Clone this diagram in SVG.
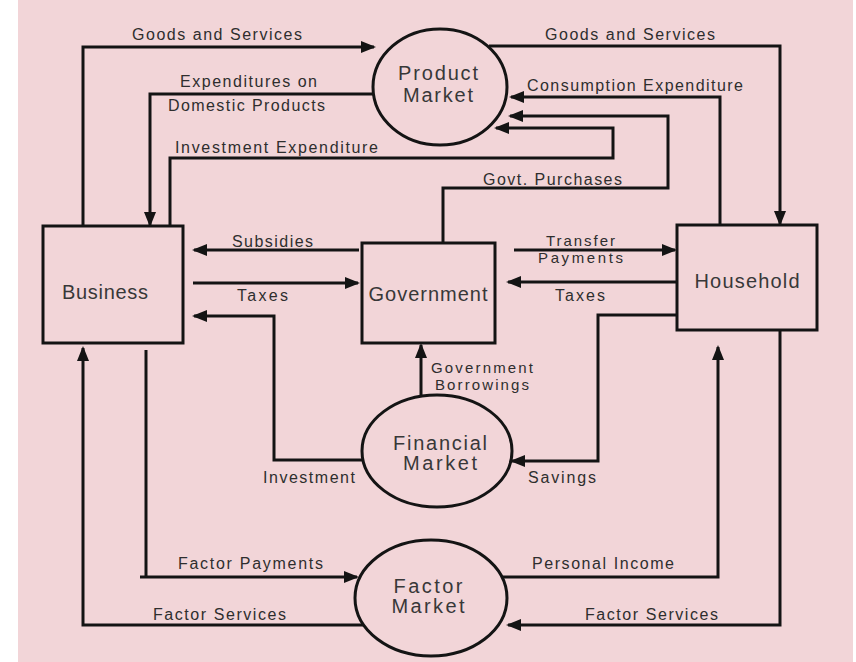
<svg xmlns="http://www.w3.org/2000/svg" width="856" height="662" viewBox="0 0 856 662">
<style>
.bg{fill:#f2d5d8}
.node{fill:none;stroke:#141414;stroke-width:3}
.ln{fill:none;stroke:#141414;stroke-width:3;marker-end:url(#ah)}
.pl{fill:none;stroke:#141414;stroke-width:3}
.lbl{font-family:"Liberation Sans",Arial,sans-serif;font-size:16px;fill:#2e2e2e}
.sm{font-size:15px}
.nl{font-family:"Liberation Sans",Arial,sans-serif;font-size:20px;fill:#383838;text-anchor:middle}
</style>
<defs>
<marker id="ah" markerWidth="15" markerHeight="12" refX="13" refY="6" orient="auto" markerUnits="userSpaceOnUse">
<path d="M0,0 L15,6 L0,12 Z" fill="#141414"/>
</marker>
</defs>
<rect x="0" y="0" width="856" height="662" fill="#ffffff"/>
<rect class="bg" x="18" y="0" width="835" height="662"/>

<g id="connectors">
<!-- Goods and Services left -->
<path class="ln" d="M83,226 V47 H374"/>
<!-- Expenditures on Domestic Products -->
<path class="ln" d="M374,94 H150 V225"/>
<!-- Investment Expenditure -->
<path class="ln" d="M170,226 V158 H613 V128 H496"/>
<!-- Goods and Services right -->
<path class="ln" d="M489,46 H780 V224"/>
<!-- Consumption Expenditure -->
<path class="ln" d="M720,225 V97 H511"/>
<!-- Govt. Purchases -->
<path class="ln" d="M443,243 V188 H668 V116 H510"/>
<!-- Subsidies -->
<path class="ln" d="M359,250 H194"/>
<!-- Taxes business -->
<path class="ln" d="M193,283 H358"/>
<!-- Investment -->
<path class="ln" d="M362,460 H274 V316 H194"/>
<!-- Government Borrowings -->
<path class="ln" d="M421,396 V345"/>
<!-- Transfer Payments -->
<path class="ln" d="M514,250 H675"/>
<!-- Taxes household -->
<path class="ln" d="M677,282 H508"/>
<!-- Savings -->
<path class="ln" d="M677,315 H598 V461 H512"/>
<!-- Personal Income -->
<path class="ln" d="M503,577 H718 V347"/>
<!-- Factor Services right -->
<path class="ln" d="M780,330 V625 H508"/>
<!-- Factor Payments -->
<path class="pl" d="M146,350 V577"/>
<path class="ln" d="M140,577 H357"/>
<!-- Factor Services left -->
<path class="ln" d="M363,625 H83 V348"/>
</g>

<g id="edge-labels">
<text class="lbl" x="132" y="40" textLength="170" lengthAdjust="spacing">Goods and Services</text>
<text class="lbl" x="180" y="87" textLength="137" lengthAdjust="spacing">Expenditures on</text>
<text class="lbl" x="168" y="111" textLength="157" lengthAdjust="spacing">Domestic Products</text>
<text class="lbl" x="175" y="153" textLength="203" lengthAdjust="spacing">Investment Expenditure</text>
<text class="lbl" x="545" y="40" textLength="170" lengthAdjust="spacing">Goods and Services</text>
<text class="lbl" x="527" y="91" textLength="216" lengthAdjust="spacing">Consumption Expenditure</text>
<text class="lbl" x="483" y="185" textLength="139" lengthAdjust="spacing">Govt. Purchases</text>
<text class="lbl" x="232" y="247" textLength="81" lengthAdjust="spacing">Subsidies</text>
<text class="lbl" x="237" y="301" textLength="51" lengthAdjust="spacing">Taxes</text>
<text class="lbl sm" x="546" y="246" textLength="69" lengthAdjust="spacing">Transfer</text>
<text class="lbl sm" x="538" y="263" textLength="85" lengthAdjust="spacing">Payments</text>
<text class="lbl" x="555" y="301" textLength="50" lengthAdjust="spacing">Taxes</text>
<text class="lbl sm" x="431" y="373" textLength="102" lengthAdjust="spacing">Government</text>
<text class="lbl sm" x="435" y="390" textLength="94" lengthAdjust="spacing">Borrowings</text>
<text class="lbl" x="263" y="483" textLength="92" lengthAdjust="spacing">Investment</text>
<text class="lbl" x="528" y="483" textLength="68" lengthAdjust="spacing">Savings</text>
<text class="lbl" x="178" y="569" textLength="145" lengthAdjust="spacing">Factor Payments</text>
<text class="lbl" x="532" y="569" textLength="142" lengthAdjust="spacing">Personal Income</text>
<text class="lbl" x="153" y="620" textLength="133" lengthAdjust="spacing">Factor Services</text>
<text class="lbl" x="585" y="620" textLength="133" lengthAdjust="spacing">Factor Services</text>
</g>

<g id="business">
<rect class="node" x="43" y="226" width="140" height="117"/>
<text class="nl" x="105" y="299" textLength="86" lengthAdjust="spacing">Business</text>
</g>
<g id="government">
<rect class="node" x="362" y="243" width="133" height="100"/>
<text class="nl" x="428" y="301" textLength="119" lengthAdjust="spacing">Government</text>
</g>
<g id="household">
<rect class="node" x="677" y="225" width="140" height="105"/>
<text class="nl" x="747" y="288" textLength="105" lengthAdjust="spacing">Household</text>
</g>
<g id="product-market">
<ellipse class="node" cx="440" cy="87" rx="67" ry="58"/>
<text class="nl" x="438" y="80" textLength="80" lengthAdjust="spacing">Product</text>
<text class="nl" x="438" y="102" textLength="70" lengthAdjust="spacing">Market</text>
</g>
<g id="financial-market">
<ellipse class="node" cx="437" cy="451" rx="75" ry="56"/>
<text class="nl" x="440" y="450" textLength="94" lengthAdjust="spacing">Financial</text>
<text class="nl" x="440" y="470" textLength="74" lengthAdjust="spacing">Market</text>
</g>
<g id="factor-market">
<ellipse class="node" cx="431" cy="598" rx="76" ry="58"/>
<text class="nl" x="428" y="593" textLength="69" lengthAdjust="spacing">Factor</text>
<text class="nl" x="428" y="613" textLength="73" lengthAdjust="spacing">Market</text>
</g>
</svg>
